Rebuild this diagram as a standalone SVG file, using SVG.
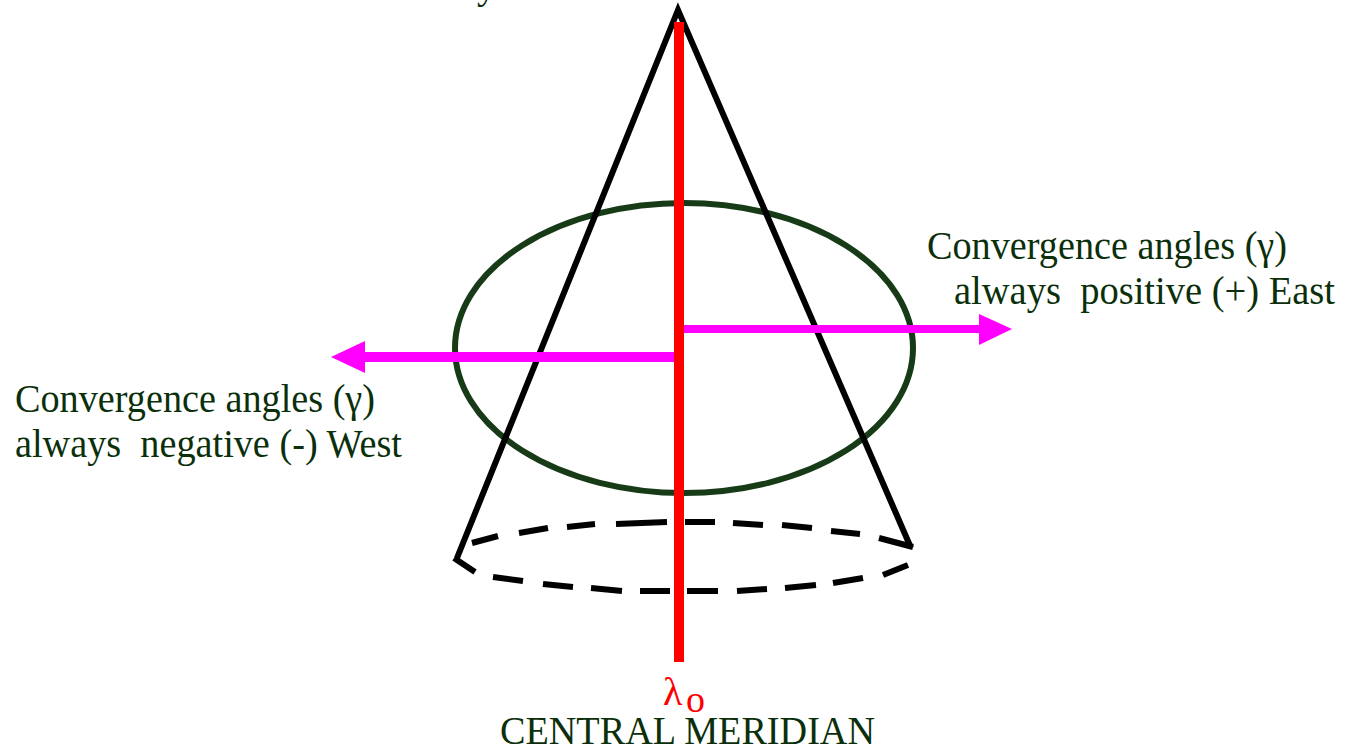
<svg xmlns="http://www.w3.org/2000/svg" width="1345" height="746" viewBox="0 0 1345 746">
<defs>
<style>
text{font-family:"Liberation Serif","Times New Roman",serif;fill:#0b2f0b;font-size:39px;white-space:pre}
.cone{fill:none;stroke:#000;stroke-width:6;stroke-linejoin:miter}
.dash{fill:none;stroke:#000;stroke-width:6}
.red{stroke:#f00;stroke-width:10;fill:none}
.magw{stroke:#f0f;stroke-width:10;fill:none}
.mage{stroke:#f0f;stroke-width:8;fill:none}
.head{fill:#f0f}
</style>
<filter id="soft" x="-5%" y="-5%" width="110%" height="110%"><feGaussianBlur stdDeviation="0.5"/></filter>
</defs>
<rect width="1345" height="746" fill="#fff"/>
<g id="ellipse"><ellipse cx="684" cy="348" rx="229" ry="145" fill="none" stroke="#173a17" stroke-width="6"/></g>
<g id="cone" filter="url(#soft)">
<path class="cone" d="M457 558L678 10L911 548"/>
<path class="dash" d="M472 543L498 536M519 533L548 528M567 527L595 524M616 524L667 522M685 522L715 522M733 523L763 525M782 525L812 528M831 531L860 534M879 538L913 547M454 558L475 572M493 577L523 581M543 584L573 587M591 588L622 591M640 591L670 591M687 591L718 591M737 591L767 589M785 588L816 585M833 583L863 578M883 575L908 565"/>
</g>
<g id="connectors">
<path class="mage" d="M680 329H982"/>
<path class="head" d="M979 314L1012 329L979 345Z"/>
<path class="magw" d="M680 357H362"/>
<path class="head" d="M365 341L331 357L365 373Z"/>
<path class="red" d="M679 22V662"/>
</g>
<g id="label-east">
<text x="927" y="259" textLength="360" lengthAdjust="spacingAndGlyphs">Convergence angles (γ)</text>
<text x="954" y="304" textLength="381" lengthAdjust="spacingAndGlyphs">always  positive (+) East</text>
</g>
<g id="label-west">
<text x="15" y="412" textLength="360" lengthAdjust="spacingAndGlyphs">Convergence angles (γ)</text>
<text x="15" y="457" textLength="387" lengthAdjust="spacingAndGlyphs">always  negative (-) West</text>
</g>
<g id="label-central">
<text x="663" y="705" style="fill:#f00;font-size:40px">λ</text>
<text x="686" y="712" style="fill:#f00;font-size:38px">o</text>
<text x="500" y="744" textLength="375" lengthAdjust="spacingAndGlyphs">CENTRAL MERIDIAN</text>
</g>
<g id="label-top"><text x="477" y="-2">y</text></g>
</svg>
